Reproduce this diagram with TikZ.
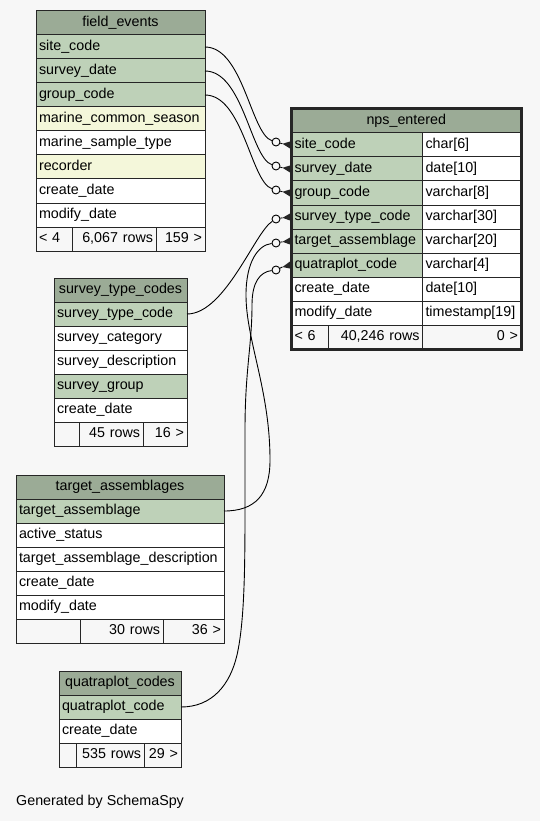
\documentclass[tikz,border=0pt]{standalone}
\usepackage{fontspec}
\setmainfont{Liberation Sans}
\usepackage{tikz}
\usetikzlibrary{calc,positioning}
\definecolor{ssHead}{HTML}{9BAB96}
\definecolor{ssKey}{HTML}{BED1B8}
\definecolor{ssIdx}{HTML}{F4F7DA}
\definecolor{ssBg}{HTML}{F7F7F7}
\definecolor{ssLine}{HTML}{262626}
\tikzset{
  % One table cell
  cell/.style={rectangle,draw=ssLine,line width=1pt,
    minimum height=24pt,inner xsep=3pt,inner ysep=0pt,outer sep=0pt,
    text height=10.5pt,text depth=3pt,
    anchor=north west,align=left,text=black,
    font=\fontsize{14.3}{16}\selectfont},
  % Table title
  hdr/.style={cell,fill=ssHead,align=center},
  % Footer cells
  footl/.style={cell,fill=ssBg,align=left},
  footr/.style={cell,fill=ssBg,align=right},
  % Foreign key line and its end
  fk/.style={draw=black,line width=0.9pt},
  odot/.style={circle,draw=black,line width=0.9pt,fill=ssBg,
    minimum size=8pt,inner sep=0pt},
}

\begin{document}
\begin{tikzpicture}[x=1pt,y=-1pt]
  \useasboundingbox (0,0) rectangle (540,821);
  \fill[ssBg] (0,0) rectangle (540,821);

  % field_events
  \node[hdr,text width=163pt] (fe) at (36,11) {field\_events};
  \foreach \i/\c/\t in {1/ssKey/site\_code,2/ssKey/survey\_date,
      3/ssKey/group\_code,4/ssIdx/marine\_common\_season,
      5/white/marine\_sample\_type,6/ssIdx/recorder,
      7/white/create\_date,8/white/modify\_date}
    \node[cell,fill=\c,text width=163pt] (fe\i) at (36,{35+24*(\i-1)}) {\t};
  \node[footl,text width=30pt] (ff1) at (36,227) {< 4};
  \node[footr,text width=78pt] (ff2) at (72,227) {6,067 rows};
  \node[footr,text width=43pt] (ff3) at (156,227) {159 >};

  % nps_entered (child table)
  \node[hdr,text width=223.5pt,minimum height=24.5pt] (ne) at (291.5,108.5) {nps\_entered};
  \foreach \i/\c/\t/\ty in {1/ssKey/site\_code/char[6],
      2/ssKey/survey\_date/date[10],3/ssKey/group\_code/varchar[8],
      4/ssKey/survey\_type\_code/varchar[30],
      5/ssKey/target\_assemblage/varchar[20],
      6/ssKey/quatraplot\_code/varchar[4],
      7/white/create\_date/date[10],8/white/modify\_date/timestamp[19]} {
    \node[cell,fill=\c,text width=125pt] (ne\i) at (291.5,{133+24*(\i-1)}) {\t};
    \node[cell,fill=white,text width=92.5pt] (nt\i) at (422.5,{133+24*(\i-1)}) {\ty};
  }
  \node[footl,text width=30.5pt] (nf1) at (291.5,325) {< 6};
  \node[footr,text width=88.5pt] (nf2) at (328,325) {40,246 rows};
  \node[footr,text width=92.5pt] (nf3) at (422.5,325) {0 >};
  \draw[ssLine,line width=3pt] (ne.north west) rectangle (nf3.south east);

  % survey_type_codes
  \node[hdr,text width=127pt] (st) at (54,278) {survey\_type\_codes};
  \foreach \i/\c/\t in {1/ssKey/survey\_type\_code,2/white/survey\_category,
      3/white/survey\_description,4/ssKey/survey\_group,5/white/create\_date}
    \node[cell,fill=\c,text width=127pt] (st\i) at (54,{302+24*(\i-1)}) {\t};
  \node[footl,text width=19pt] (sf1) at (54,422) {};
  \node[footr,text width=58pt] (sf2) at (79,422) {45 rows};
  \node[footr,text width=38pt] (sf3) at (143,422) {16 >};

  % target_assemblages
  \node[hdr,text width=202pt] (ta) at (16,475) {target\_assemblages};
  \foreach \i/\c/\t in {1/ssKey/target\_assemblage,2/white/active\_status,
      3/white/target\_assemblage\_description,4/white/create\_date,
      5/white/modify\_date}
    \node[cell,fill=\c,text width=202pt] (ta\i) at (16,{499+24*(\i-1)}) {\t};
  \node[footl,text width=58pt] (tf1) at (16,619) {};
  \node[footr,text width=77pt] (tf2) at (80,619) {30 rows};
  \node[footr,text width=55pt] (tf3) at (163,619) {36 >};

  % quatraplot_codes
  \node[hdr,text width=116pt] (qc) at (59,671) {quatraplot\_codes};
  \node[cell,fill=ssKey,text width=116pt] (qc1) at (59,695) {quatraplot\_code};
  \node[cell,fill=white,text width=116pt] (qc2) at (59,719) {create\_date};
  \node[footl,text width=11pt] (qf1) at (59,743) {};
  \node[footr,text width=62pt] (qf2) at (76,743) {535 rows};
  \node[footr,text width=31pt] (qf3) at (144,743) {29 >};

  % Crow's feet with open circles on nps_entered
  \foreach \r/\dy in {1/-3,2/-3,3/-3,4/2,5/2,6/5} {
    \node[odot] (ne\r o) at ($(ne\r.west)+(-15.5,\dy)$) {};
    \draw[fk] (ne\r o) -- ($(ne\r.west)+(-9,\dy*0.4)$) coordinate (cr\r);
    \fill[ssLine] (cr\r) -- ($(ne\r.west)+(-1.5,-3.5)$)
      -- ($(ne\r.west)+(-1.5,3.5)$) -- cycle;
  }

  % Foreign keys
  \draw[fk] (fe1.east) .. controls +(38,0) and +(-25,-8) .. (ne1o);
  \draw[fk] (fe2.east) .. controls +(38,0) and +(-25,-8) .. (ne2o);
  \draw[fk] (fe3.east) .. controls +(38,0) and +(-25,-8) .. (ne3o);
  \draw[fk] (st1.east) .. controls +(38,0) and +(-21,13) .. (ne4o);
  \draw[fk] (ta1.east) .. controls +(31,0) and (270,495) .. (270,460)
    .. controls (270,390) and (246,340) .. (246,295)
    .. controls (246,262) and (258,245) .. (ne5o);
  \draw[fk] (qc1.east) .. controls +(31,0) and (230,685) .. (237,655)
    .. controls (245,620) and (245,560) .. (245,500) -- (245,430)
    .. controls (245,370) and (252,345) .. (252,305)
    .. controls (252,282) and (260,272) .. (ne6o);

  \node[anchor=west,inner sep=0pt,font=\fontsize{14.3}{16}\selectfont] (gen)
    at (16,802) {Generated by SchemaSpy};
\end{tikzpicture}
\end{document}
